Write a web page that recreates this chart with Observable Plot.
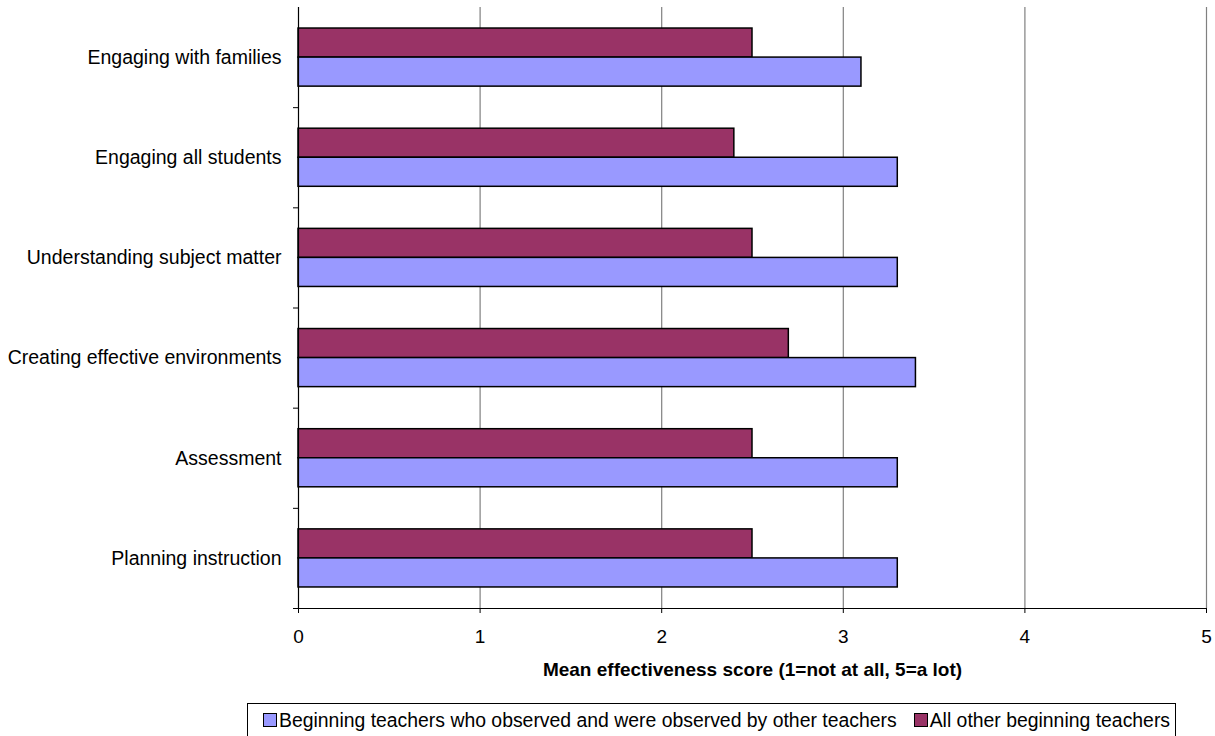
<!DOCTYPE html>
<html>
<head>
<meta charset="utf-8">
<script src="https://cdn.jsdelivr.net/npm/d3@7"></script>
<script src="https://cdn.jsdelivr.net/npm/@observablehq/plot@0.6"></script>
<style>
  body { margin: 0; background: #fff; font-family: "Liberation Sans", Arial, sans-serif; }
  #chart svg { display: block; }
  .legend {
    position: absolute; left: 247px; top: 703px; width: 929px; height: 34px;
    border: 1px solid #000; box-sizing: border-box; padding-left: 15px;
    display: flex; align-items: center; justify-content: flex-start;
    font-size: 19.4px; color: #000; white-space: nowrap;
  }
  .legend .item { display: flex; align-items: center; }
  .legend .item + .item { margin-left: 17px; }
  .legend .swatch { width: 12px; height: 12px; border: 1.5px solid #000; margin-right: 2px; }
</style>
</head>
<body>
<div id="chart"></div>
<div class="legend" id="legend"></div>
<script>
// Survey categories, listed top to bottom
const categories = [
  "Engaging with families",
  "Engaging all students",
  "Understanding subject matter",
  "Creating effective environments",
  "Assessment",
  "Planning instruction"
];
// Mean effectiveness scores per group
const observedScores = [3.1, 3.3, 3.3, 3.4, 3.3, 3.3];
const otherScores = [2.5, 2.4, 2.5, 2.7, 2.5, 2.5];
const seriesNames = [
  "Beginning teachers who observed and were observed by other teachers",
  "All other beginning teachers"
];
const seriesColors = ["#9999FF", "#993366"];
const xTicks = [0, 1, 2, 3, 4, 5];
const xTitle = "Mean effectiveness score (1=not at all, 5=a lot)";

// Each category occupies one unit of the y scale; the "other" bar sits above the "observed" bar.
const lanes = { [seriesNames[1]]: [0.21, 0.5], [seriesNames[0]]: [0.5, 0.79] };
const rows = [];
categories.forEach((c, i) => {
  rows.push({ category: c, slot: i, series: seriesNames[1], value: otherScores[i] });
  rows.push({ category: c, slot: i, series: seriesNames[0], value: observedScores[i] });
});

const chart = Plot.plot({
  width: 1215,
  height: 690,
  marginLeft: 298,
  marginRight: 9,
  marginTop: 7,
  marginBottom: 82,
  style: { fontFamily: "'Liberation Sans', Arial, sans-serif", fontSize: "19px", color: "#000" },
  x: { domain: [0, 5] },
  y: { domain: [0, categories.length], reverse: true },
  color: { domain: seriesNames, range: seriesColors },
  marks: [
    Plot.gridX(xTicks.slice(1), { stroke: "#808080", strokeOpacity: 1, strokeWidth: 1.2 }),
    Plot.rectX(rows, {
      x1: 0,
      x2: "value",
      y1: d => d.slot + lanes[d.series][0],
      y2: d => d.slot + lanes[d.series][1],
      fill: "series",
      stroke: "#000",
      strokeWidth: 1.5
    }),
    Plot.ruleX([0], { stroke: "#000", strokeWidth: 1.2 }),
    Plot.ruleY([categories.length], { stroke: "#000", strokeWidth: 1.2 }),
    Plot.axisX(xTicks, {
      tickSize: 5, tickPadding: 16, label: null, stroke: "#000",
      tickFormat: d => String(d), fontSize: 19
    }),
    // Short ticks at the boundaries between categories
    Plot.axisY(d3.range(1, categories.length + 1), {
      tickSize: 5, tickFormat: () => "", label: null, stroke: "#000"
    }),
    // Category names centred on each band
    Plot.axisY(categories.map((c, i) => i + 0.5), {
      tickSize: 0, tickPadding: 17, label: null,
      tickFormat: v => categories[Math.floor(v)], fontSize: 19.5
    }),
    Plot.text([xTitle], {
      text: d => d, frameAnchor: "bottom", lineAnchor: "middle", dy: 61,
      fontWeight: "bold", fontSize: 19, fill: "#000"
    })
  ]
});
document.getElementById("chart").appendChild(chart);

// Legend below the chart
const legend = d3.select("#legend");
seriesNames.forEach((name, i) => {
  const item = legend.append("div").attr("class", "item");
  item.append("div").attr("class", "swatch").style("background", seriesColors[i]);
  item.append("span").text(name);
});
</script>
</body>
</html>
